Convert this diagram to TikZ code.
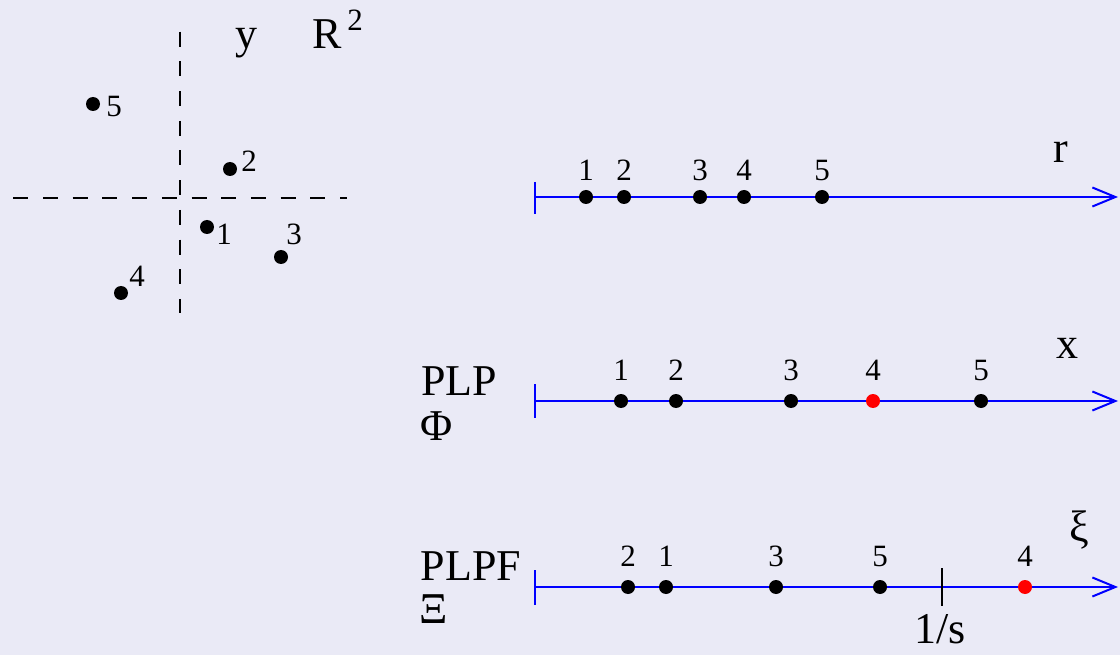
\documentclass[tikz,border=0pt]{standalone}
\usepackage{fontspec}
\setmainfont{Liberation Serif}
\usetikzlibrary{arrows.meta}
\definecolor{bgpaper}{RGB}{234,234,246}
\definecolor{axisblue}{RGB}{0,0,255}
\definecolor{dotred}{RGB}{255,0,0}
\tikzset{
  dot/.style={circle,fill=black,inner sep=0pt,minimum size=14pt},
  reddot/.style={dot,fill=dotred},
  num/.style={inner sep=0pt,anchor=base,font=\fontsize{31}{34}\selectfont},
  big/.style={inner sep=0pt,anchor=base,font=\fontsize{44}{48}\selectfont},
  guide/.style={line width=1.6pt,dash pattern=on 15pt off 14.7pt},
  axisline/.style={axisblue,line width=2pt,-{Straight Barb[length=23pt,width=19pt,line width=2pt]}},
  axistick/.style={axisblue,line width=2pt},
  marktick/.style={black,line width=2pt},
}
\begin{document}
\begin{tikzpicture}[x=1pt,y=-1pt]
\fill[bgpaper] (0,0) rectangle (1120,655);
\useasboundingbox (0,0) rectangle (1120,655);

% plane with dashed axes
\coordinate (vtop) at (180,31.7);
\coordinate (vbot) at (180,313.3);
\coordinate (hleft) at (13.3,198);
\coordinate (hright) at (346.7,198);
\draw[guide] (vtop) -- (vbot);
\draw[guide] (hleft) -- (hright);
\node[big] (ylab) at (246,49) {y};
\node[big] (rlab) at (327,49) {R};
\node[num] (rexp) at (355,31) {2};

\node[dot] (p5) at (93,104) {};
\node[dot] (p2) at (230,169) {};
\node[dot] (p1) at (207,227) {};
\node[dot] (p3) at (281,257) {};
\node[dot] (p4) at (121,293) {};
\node[num] (l5) at (114,117) {5};
\node[num] (l2) at (249,172) {2};
\node[num] (l1) at (224,245) {1};
\node[num] (l3) at (294,245) {3};
\node[num] (l4) at (137,287) {4};

% r axis
\coordinate (ra) at (535,197);
\coordinate (rb) at (1118,197);
\coordinate (rta) at (535,182);
\coordinate (rtb) at (535,214);
\draw[axistick] (rta) -- (rtb);
\draw[axisline] (ra) -- (rb);
\node[big] (rname) at (1061,163) {r};
\foreach \n/\x in {1/586,2/624,3/700,4/744,5/822}{
  \node[dot] (r\n) at (\x,197) {};
  \node[num] (rl\n) at (\x,181) {\n};
}

% x axis (PLP)
\coordinate (xa) at (535,401);
\coordinate (xb) at (1118,401);
\coordinate (xta) at (535,384);
\coordinate (xtb) at (535,418);
\draw[axistick] (xta) -- (xtb);
\draw[axisline] (xa) -- (xb);
\node[big] (xname) at (1067,358) {x};
\node[big] (plp) at (459,395) {PLP};
\node[big] (phi) at (437,440) {Φ};
\foreach \n/\x in {1/621,2/676,3/791,5/981}{
  \node[dot] (x\n) at (\x,401) {};
  \node[num] (xl\n) at (\x,380) {\n};
}
\node[reddot] (x4) at (873,401) {};
\node[num] (xl4) at (873,380) {4};

% xi axis (PLPF)
\coordinate (sa) at (535,587);
\coordinate (sb) at (1118,587);
\coordinate (sta) at (535,570);
\coordinate (stb) at (535,605);
\draw[axistick] (sta) -- (stb);
\draw[axisline] (sa) -- (sb);
\node[big,anchor=center] (sname) at (1079,530) {ξ};
\node[big] (plpf) at (471,580) {PLPF};
\node[big] (xi) at (434,623) {Ξ};
\foreach \n/\x in {2/628,1/666,3/776,5/880}{
  \node[dot] (s\n) at (\x,587) {};
  \node[num] (sl\n) at (\x,566) {\n};
}
\node[reddot] (s4) at (1025,587) {};
\node[num] (sl4) at (1025,566) {4};
\coordinate (cuta) at (942,568);
\coordinate (cutb) at (942,606);
\draw[marktick] (cuta) -- (cutb);
\node[big] (cutlab) at (940,643) {1/s};
\end{tikzpicture}
\end{document}
